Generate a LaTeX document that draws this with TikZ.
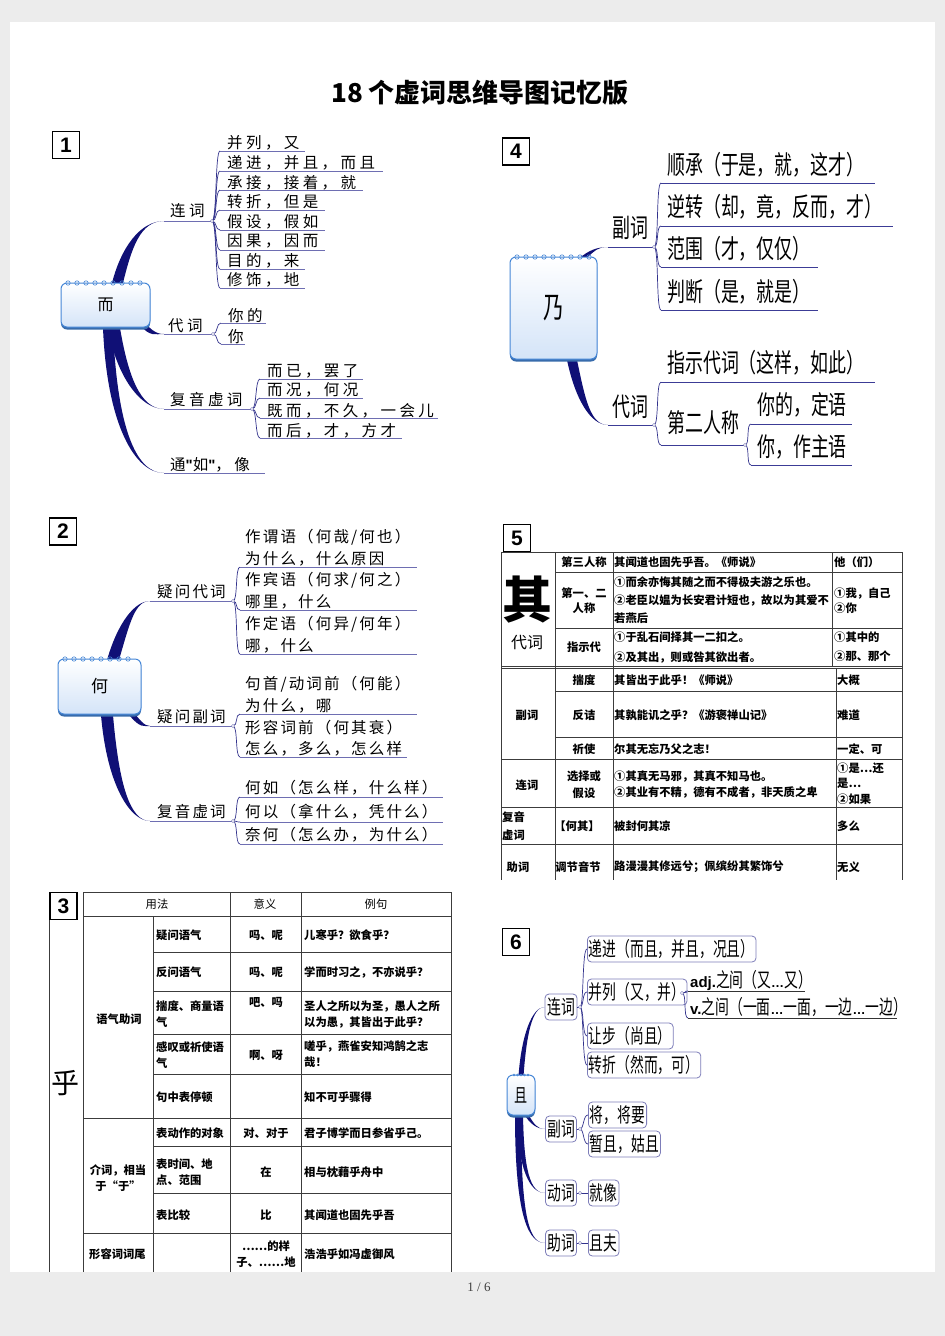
\documentclass[tikz,border=0pt]{standalone}
\usepackage{fontspec}
\setmainfont{Noto Sans CJK SC}
\newfontfamily\cjk{Noto Sans CJK SC}
\newfontfamily\cjkspA[LetterSpace=22]{Noto Sans CJK SC}
\newfontfamily\cjkspB[LetterSpace=14]{Noto Sans CJK SC}
\newfontfamily\cjknar[FakeStretch=0.69]{Noto Sans CJK SC}
\newfontfamily\latb{Liberation Sans}
\newfontfamily\latserif{Liberation Serif}
\usetikzlibrary{calc}
\definecolor{navy}{RGB}{16,16,118}
\definecolor{conn}{RGB}{50,50,140}
\definecolor{ulc}{RGB}{110,110,178}
\definecolor{ulb}{RGB}{60,60,150}
\definecolor{padblue}{RGB}{70,135,215}
\definecolor{padfill}{RGB}{212,228,248}
\definecolor{p6c}{RGB}{125,125,185}
\definecolor{pagebg}{RGB}{236,236,236}
\definecolor{tline}{RGB}{60,60,60}
% tapered branch: base, half offset, control 1, control 2, end, colour
\newcommand\thickbr[6]{%
  \fill[#6] ($(#1)-(#2)$) .. controls ($(#3)-(#2)$) and (#4) .. (#5) .. controls (#4) and ($(#3)+(#2)$) .. ($(#1)+(#2)$) -- cycle;}
% leaf: name, fork, line start x, line y, line end x, text x, text y, style, text
\newcommand\mmleaf[9]{%
  \node[#8] (#1) at (#6,#7) {#9};
  \coordinate (#1s) at (#3,#4);
  \coordinate (#1e) at (#5,#4);
  \draw[forkline] (#2) .. controls ($(#2)+(5,0)$) and ($(#1s)+(-5,0)$) .. (#1s);
  \draw[leafline] (#1s) -- (#1e);}
% notepad: name, x1, y1, x2, y2, ring step, ring radius, font, text
\newcommand\notepadbox[9]{%
  \fill[padblue!80!black, rounded corners=6pt] (#2,#3+4) rectangle (#4,#5+2.5);
  \node[padbox, minimum width={#4-#2}, minimum height={#5-#3}, font=#8] (#1) at ({(#2+#4)/2},{(#3+#5)/2}) {#9};
  \pgfmathsetmacro\rngA{#2+7}\pgfmathsetmacro\rngB{#2+7+#6}\pgfmathsetmacro\rngZ{#4-6}
  \foreach \rx in {\rngA,\rngB,...,\rngZ}{\draw[ring] (\rx,#3) circle[radius=#7pt];}}
\begin{document}
\begin{tikzpicture}[x=1pt,y=-1pt,
  numbox/.style={draw=black, line width=1.6pt, minimum width=27pt, minimum height=27pt, inner sep=0pt, fill=white, font=\latb\bfseries\fontsize{21}{21}\selectfont},
  padbox/.style={draw=padblue, line width=1pt, rounded corners=6pt, top color=white, bottom color=padfill, inner sep=0pt},
  ring/.style={draw=padblue, line width=0.6pt},
  forkc/.style={circle, draw=conn!70, fill=white, line width=0.4pt, inner sep=0pt, minimum size=3.2pt},
  forkline/.style={draw=conn, line width=0.7pt},
  leafline/.style={draw=ulc, line width=0.8pt},
  p1/.style={font=\cjkspA\fontsize{15.5}{17}\selectfont, inner sep=0pt, anchor=west},
  p2/.style={font=\cjkspB\fontsize{15.5}{21.5}\selectfont, inner sep=0pt, anchor=west, align=left},
  p4/.style={font=\cjknar\fontsize{26}{28}\selectfont, inner sep=0pt, anchor=west},
  p6box/.style={draw=p6c, line width=0.8pt, rounded corners=4pt, fill=white, font=\cjknar\fontsize{20}{22}\selectfont, inner xsep=1.5pt, inner ysep=2pt, minimum height=26pt},
  p6t/.style={font=\cjknar\fontsize{20}{22}\selectfont, inner sep=0pt, anchor=west},
  tl/.style={draw=tline, line width=0.9pt},
  tb/.style={font=\cjk\bfseries\fontsize{11.3}{16}\selectfont, inner sep=0pt, align=left, anchor=west},
  tc/.style={tb, anchor=center, align=center},
  th/.style={font=\cjk\fontsize{11.3}{16}\selectfont, inner sep=0pt, anchor=center}]
\useasboundingbox (0,0) rectangle (945,1336);
\fill[pagebg] (0,0) rectangle (945,1336);
\fill[white] (10,22) rectangle (935,1272);
\node[font=\cjk\bfseries\fontsize{26}{26}\selectfont] (title) at (480,93) {18 个虚词思维导图记忆版};
\node[font=\latserif\fontsize{13}{13}\selectfont, text=black!75] (pg) at (479,1287) {1 / 6};

%%%%%%%%%%%%%%%% Panel 1 : 而
\node[numbox] (n1) at (66,145) {1};
\coordinate (b1a) at (117,285);
\coordinate (b1b) at (140,321);
\coordinate (b1c) at (114,328);
\coordinate (b1d) at (108,328);
\coordinate (e1) at (164,221);
\coordinate (e2) at (164,334);
\coordinate (e3) at (164,409);
\coordinate (e4) at (164,473);
\thickbr{b1a}{5.5,0}{126,248}{140,221}{e1}{navy}
\thickbr{b1b}{0,4}{150,333}{155,334}{e2}{navy}
\thickbr{b1c}{6,0}{122,375}{140,409}{e3}{navy}
\thickbr{b1d}{5,0}{112,425}{135,473}{e4}{navy}
\notepadbox{er}{61}{283}{150}{327}{9}{2.2}{\cjk\fontsize{16}{16}\selectfont}{而}
\node[p1] (lc1) at (170,211) {连词};
\coordinate (f1) at (212,221);
\draw[leafline] (e1) -- (f1);
\mmleaf{a1}{f1}{220}{151}{305}{227}{143}{p1}{并列，又}
\mmleaf{a2}{f1}{220}{171}{383}{227}{163}{p1}{递进，并且，而且}
\mmleaf{a3}{f1}{220}{190}{363}{227}{183}{p1}{承接，接着，就}
\mmleaf{a4}{f1}{220}{210}{325}{227}{202}{p1}{转折，但是}
\mmleaf{a5}{f1}{220}{230}{325}{227}{222}{p1}{假设，假如}
\mmleaf{a6}{f1}{220}{250}{325}{227}{241}{p1}{因果，因而}
\mmleaf{a7}{f1}{220}{269}{305}{227}{261}{p1}{目的，来}
\mmleaf{a8}{f1}{220}{288}{305}{227}{280}{p1}{修饰，地}
\node[forkc] at (f1) {};
\node[p1] (lc2) at (168,326) {代词};
\coordinate (f2) at (213,334);
\draw[leafline] (e2) -- (f2);
\mmleaf{b1}{f2}{221}{323}{266}{228}{316}{p1}{你的}
\mmleaf{b2}{f2}{221}{344}{245}{228}{337}{p1}{你}
\node[forkc] at (f2) {};
\node[p1] (lc3) at (170,400) {复音虚词};
\coordinate (f3) at (252,409);
\draw[leafline] (e3) -- (f3);
\mmleaf{c1}{f3}{260}{379}{363}{267}{371}{p1}{而已，罢了}
\mmleaf{c2}{f3}{260}{398}{363}{267}{390}{p1}{而况，何况}
\mmleaf{c3}{f3}{260}{418}{438}{267}{411}{p1}{既而，不久，一会儿}
\mmleaf{c4}{f3}{260}{438}{402}{267}{431}{p1}{而后，才，方才}
\node[forkc] at (f3) {};
\node[p1] (lc4) at (170,465) {通{\latb\bfseries\fontsize{15}{15}\selectfont"}如{\latb\bfseries\fontsize{15}{15}\selectfont"}，像};
\coordinate (ee4) at (265,473);
\draw[leafline] (e4) -- (ee4);

%%%%%%%%%%%%%%%% Panel 2 : 何
\node[numbox] (n2) at (63,531.5) {2};
\coordinate (b2a) at (113,660);
\coordinate (b2b) at (130,712);
\coordinate (b2c) at (107,715);
\coordinate (k1) at (150,601);
\coordinate (k2) at (150,726);
\coordinate (k3) at (150,821);
\thickbr{b2a}{6,0}{124,622}{135,601}{k1}{navy}
\thickbr{b2b}{0,4}{140,724}{144,726}{k2}{navy}
\thickbr{b2c}{6,0}{113,785}{130,821}{k3}{navy}
\notepadbox{he}{58}{659}{141}{714}{9}{2.2}{\cjk\fontsize{17}{17}\selectfont}{何}
\node[p2] (ld1) at (157,592) {疑问代词};
\coordinate (g1) at (233,601);
\draw[leafline] (k1) -- (g1);
\mmleaf{d1}{g1}{240}{567}{417}{245}{547.5}{p2}{作谓语（何哉/何也）\\为什么，什么原因}
\mmleaf{d2}{g1}{240}{610}{417}{245}{590.5}{p2}{作宾语（何求/何之）\\哪里，什么}
\mmleaf{d3}{g1}{240}{654}{417}{245}{634.5}{p2}{作定语（何异/何年）\\哪，什么}
\node[forkc] at (g1) {};
\node[p2] (ld2) at (157,717) {疑问副词};
\coordinate (g2) at (233,726);
\draw[leafline] (k2) -- (g2);
\mmleaf{d4}{g2}{240}{714}{417}{245}{694.5}{p2}{句首/动词前（何能）\\为什么，哪}
\mmleaf{d5}{g2}{240}{757}{407}{245}{738}{p2}{形容词前（何其衰）\\怎么，多么，怎么样}
\node[forkc] at (g2) {};
\node[p2] (ld3) at (157,812) {复音虚词};
\coordinate (g3) at (233,821);
\draw[leafline] (k3) -- (g3);
\mmleaf{d6}{g3}{240}{797}{443}{245}{788}{p2}{何如（怎么样，什么样）}
\mmleaf{d7}{g3}{240}{822}{443}{245}{812}{p2}{何以（拿什么，凭什么）}
\mmleaf{d8}{g3}{240}{844}{443}{245}{835}{p2}{奈何（怎么办，为什么）}
\node[forkc] at (g3) {};

%%%%%%%%%%%%%%%% Panel 4 : 乃
\begin{scope}[leafline/.style={draw=ulb, line width=0.9pt}]
\node[numbox] (n4) at (516,151.5) {4};
\coordinate (b4a) at (582,259);
\coordinate (b4b) at (572,360);
\coordinate (m1) at (608,247);
\coordinate (m2) at (608,425);
\thickbr{b4a}{3.5,0}{592,250}{598,247}{m1}{navy}
\thickbr{b4b}{5,0}{580,398}{590,425}{m2}{navy}
\notepadbox{nai}{510}{257}{597}{359}{9}{2.2}{\cjknar\fontsize{30}{30}\selectfont}{乃}
\node[p4] (lf1) at (612,228) {副词};
\coordinate (h1) at (654,247);
\draw[leafline] (m1) -- (h1);
\mmleaf{e1}{h1}{661}{183}{875}{667}{165}{p4}{顺承（于是，就，这才）}
\mmleaf{e2}{h1}{661}{226}{893}{667}{207}{p4}{逆转（却，竟，反而，才）}
\mmleaf{e3}{h1}{661}{267}{818}{667}{249}{p4}{范围（才，仅仅）}
\mmleaf{e4}{h1}{661}{310}{818}{667}{292}{p4}{判断（是，就是）}
\node[forkc] at (h1) {};
\node[p4] (lf2) at (612,407) {代词};
\coordinate (h2) at (654,425);
\draw[leafline] (m2) -- (h2);
\mmleaf{e5}{h2}{661}{382}{875}{667}{363}{p4}{指示代词（这样，如此）}
\mmleaf{e6}{h2}{661}{445}{744}{667}{423}{p4}{第二人称}
\node[forkc] at (h2) {};
\coordinate (h3) at (745,445);
\mmleaf{e7}{h3}{751}{424}{852}{757}{405}{p4}{你的，定语}
\mmleaf{e8}{h3}{751}{465}{852}{757}{447}{p4}{你，作主语}
\node[forkc] at (h3) {};
\end{scope}

%%%%%%%%%%%%%%%% Panel 5 : 其 table
\node[numbox] (n5) at (517,538) {5};
\draw[tl] (501,552) -- (902,552);
\draw[tl] (555,572) -- (902,572);
\draw[tl] (555,628) -- (902,628);
\draw[tl] (501,666) -- (902,666);
\draw[tl] (501,668.5) -- (902,668.5);
\draw[tl] (555,691) -- (902,691);
\draw[tl] (555,737) -- (902,737);
\draw[tl] (501,759) -- (902,759);
\draw[tl] (501,807) -- (902,807);
\draw[tl] (501,844) -- (902,844);
\draw[tl] (501,552) -- (501,880);
\draw[tl] (555,552) -- (555,880);
\draw[tl] (613,552) -- (613,880);
\draw[tl] (832,552) -- (832,666);
\draw[tl] (836,668.5) -- (836,880);
\draw[tl] (902,552) -- (902,880);
\node[font=\cjk\bfseries\fontsize{50}{50}\selectfont, inner sep=0pt] (qi) at (527,600) {其};
\node[font=\cjk\fontsize{16}{16}\selectfont, inner sep=0pt] (qdc) at (527,643) {代词};
\node[tc] (q1) at (584,562) {第三人称};
\node[tb] (q2) at (614,562) {其闻道也固先乎吾。《师说》};
\node[tb] (q3) at (834,562) {他（们）};
\node[tc, font=\cjk\bfseries\fontsize{11.3}{15}\selectfont] (q4) at (584,601) {第一、二\\人称};
\node[tb, font=\cjk\bfseries\fontsize{11.3}{18}\selectfont] (q5) at (614,600) {①而余亦悔其随之而不得极夫游之乐也。\\②老臣以媪为长安君计短也，故以为其爱不\\若燕后};
\node[tb, font=\cjk\bfseries\fontsize{11.3}{15}\selectfont] (q6) at (834,600.5) {①我，自己\\②你};
\node[tc] (q7) at (584,647) {指示代};
\node[tb, font=\cjk\bfseries\fontsize{11.3}{20}\selectfont] (q8) at (614,647) {①于乱石间择其一二扣之。\\②及其出，则或咎其欲出者。};
\node[tb, font=\cjk\bfseries\fontsize{11.3}{19}\selectfont] (q9) at (834,646.5) {①其中的\\②那、那个};
\node[tc] (q10) at (527,715) {副词};
\node[tc] (q11) at (584,680) {揣度};
\node[tb] (q12) at (614,680) {其皆出于此乎！《师说》};
\node[tb] (q13) at (837,680) {大概};
\node[tc] (q14) at (584,715) {反诘};
\node[tb] (q15) at (614,715) {其孰能讥之乎？《游褒禅山记》};
\node[tb] (q16) at (837,715) {难道};
\node[tc] (q17) at (584,749) {祈使};
\node[tb] (q18) at (614,749) {尔其无忘乃父之志！};
\node[tb] (q19) at (837,749) {一定、可};
\node[tc] (q20) at (527,785) {连词};
\node[tc, font=\cjk\bfseries\fontsize{11.3}{17}\selectfont] (q21) at (584,784.5) {选择或\\假设};
\node[tb, font=\cjk\bfseries\fontsize{11.3}{15.5}\selectfont] (q22) at (614,784.5) {①其真无马邪，其真不知马也。\\②其业有不精，德有不成者，非天质之卑};
\node[tb, font=\cjk\bfseries\fontsize{11.3}{15.5}\selectfont] (q23) at (837,783.5) {①是…还\\是…\\②如果};
\node[tb, font=\cjk\bfseries\fontsize{11.3}{18}\selectfont] (q24) at (502,826) {复音\\虚词};
\node[tc] (q25) at (577,826) {【何其】};
\node[tb] (q26) at (614,826) {被封何其凉};
\node[tb] (q27) at (837,826) {多么};
\node[tc] (q28) at (518,867) {助词};
\node[tc] (q29) at (578,867) {调节音节};
\node[tb] (q30) at (614,867) {路漫漫其修远兮；佩缤纷其繁饰兮};
\node[tb] (q31) at (837,867) {无义};

%%%%%%%%%%%%%%%% Panel 3 : 乎 table
\node[numbox] (n3) at (63.5,906) {3};
\draw[tl] (83,892) -- (451,892);
\draw[tl] (83,916) -- (451,916);
\draw[tl] (153,952) -- (451,952);
\draw[tl] (153,991) -- (451,991);
\draw[tl] (153,1034) -- (451,1034);
\draw[tl] (153,1074) -- (451,1074);
\draw[tl] (83,1118) -- (451,1118);
\draw[tl] (153,1146) -- (451,1146);
\draw[tl] (153,1193) -- (451,1193);
\draw[tl] (83,1233) -- (451,1233);
\draw[tl] (49,920) -- (49,1272);
\draw[tl] (83,892) -- (83,1272);
\draw[tl] (153,916) -- (153,1272);
\draw[tl] (230,892) -- (230,1272);
\draw[tl] (301,892) -- (301,1272);
\draw[tl] (451,892) -- (451,1272);
\node[th] (h31) at (157,904) {用法};
\node[th] (h32) at (265,904) {意义};
\node[th] (h33) at (376,904) {例句};
\node[font=\cjk\fontsize{28}{28}\selectfont, inner sep=0pt] (hu) at (65,1083) {乎};
\node[tc] (s1) at (119,1019) {语气助词};
\node[tb] (r1a) at (156,935) {疑问语气};
\node[tc] (r1b) at (266,935) {吗、呢};
\node[tb] (r1c) at (304,935) {儿寒乎？欲食乎？};
\node[tb] (r2a) at (156,972) {反问语气};
\node[tc] (r2b) at (266,972) {吗、呢};
\node[tb] (r2c) at (304,972) {学而时习之，不亦说乎？};
\node[tb] (r3a) at (156,1014) {揣度、商量语\\气};
\node[tc] (r3b) at (266,1002) {吧、吗};
\node[tb] (r3c) at (304,1014) {圣人之所以为圣，愚人之所\\以为愚，其皆出于此乎？};
\node[tb] (r4a) at (156,1055) {感叹或祈使语\\气};
\node[tc] (r4b) at (266,1055) {啊、呀};
\node[tb] (r4c) at (304,1054.5) {嗟乎，燕雀安知鸿鹄之志\\哉！};
\node[tb] (r5a) at (156,1097) {句中表停顿};
\node[tb] (r5c) at (304,1097) {知不可乎骤得};
\node[tc] (s2) at (118,1178) {介词，相当\\于“于”};
\node[tb] (r6a) at (156,1133) {表动作的对象};
\node[tc] (r6b) at (266,1133) {对、对于};
\node[tb] (r6c) at (304,1133) {君子博学而日参省乎己。};
\node[tb] (r7a) at (156,1172) {表时间、地\\点、范围};
\node[tc] (r7b) at (266,1172) {在};
\node[tb] (r7c) at (304,1172) {相与枕藉乎舟中};
\node[tb] (r8a) at (156,1215) {表比较};
\node[tc] (r8b) at (266,1215) {比};
\node[tb] (r8c) at (304,1215) {其闻道也固先乎吾};
\node[tb] (s3) at (89,1254) {形容词词尾};
\node[tc] (r9b) at (266,1254.5) {……的样\\子、……地};
\node[tb] (r9c) at (304,1254) {浩浩乎如冯虚御风};

%%%%%%%%%%%%%%%% Panel 6 : 且
\node[numbox] (n6) at (516,942) {6};
\node[p6box, minimum width=32pt] (x1) at (561,1007) {连词};
\node[p6box, minimum width=31pt] (x2) at (561,1129) {副词};
\node[p6box, minimum width=31pt] (x3) at (561,1193) {动词};
\node[p6box, minimum width=31pt] (x4) at (561,1243) {助词};
\coordinate (q6a) at (521,1076);
\coordinate (q6b) at (526,1114);
\coordinate (q6c) at (520,1115);
\coordinate (q6d) at (518,1115);
\thickbr{q6a}{2.5,0}{524,1035}{532,1007}{x1.west}{navy}
\thickbr{q6b}{2,0}{532,1124}{537,1129}{x2.west}{navy}
\thickbr{q6c}{3,0}{521,1170}{530,1193}{x3.west}{navy}
\thickbr{q6d}{3,0}{518,1222}{530,1243}{x4.west}{navy}
\notepadbox{qie}{507}{1075}{535}{1115}{3.5}{1}{\cjknar\fontsize{19}{19}\selectfont}{且}
\node[p6box, anchor=west] (y1) at (587,949) {递进（而且，并且，况且）};
\node[p6box, anchor=west] (y2) at (587,992) {并列（又，并）};
\node[p6box, anchor=west] (y3) at (587,1036) {让步（尚且）};
\node[p6box, anchor=west] (y4) at (587,1065) {转折（然而，可）};
\node[p6box, anchor=west] (y5) at (588,1115) {将，将要};
\node[p6box, anchor=west] (y6) at (588,1144) {暂且，姑且};
\node[p6box, anchor=west] (y7) at (588,1193) {就像};
\node[p6box, anchor=west] (y8) at (588,1243) {且夫};
\coordinate (j1) at (580,1007);
\coordinate (j2) at (580,1129);
\coordinate (j3) at (580,1193);
\coordinate (j4) at (580,1243);
\draw[forkline] (x1.east) -- (j1);
\draw[forkline] (x2.east) -- (j2);
\draw[forkline] (x3.east) -- (j3) -- (y7.west);
\draw[forkline] (x4.east) -- (j4) -- (y8.west);
\foreach \t in {y1,y2,y3,y4}{\draw[forkline] (j1) .. controls ($(j1)+(4,0)$) and ($(\t.west)+(-5,0)$) .. (\t.west);}
\foreach \t in {y5,y6}{\draw[forkline] (j2) .. controls ($(j2)+(4,0)$) and ($(\t.west)+(-5,0)$) .. (\t.west);}
\node[forkc] at (j1) {};
\node[forkc] at (j2) {};
\node[forkc] at (j3) {};
\node[forkc] at (j4) {};
\coordinate (j5) at (682,993);
\draw[forkline] (y2.east) -- (j5);
\begin{scope}[leafline/.style={draw=black!80, line width=0.9pt}]
\mmleaf{z1}{j5}{688}{991}{805}{690}{980}{p6t}{{\latb\bfseries\fontsize{15}{15}\selectfont adj.}之间（又{\latb\bfseries\fontsize{13}{13}\selectfont …}又）}
\mmleaf{z2}{j5}{688}{1018}{897}{690}{1007}{p6t}{{\latb\bfseries\fontsize{15}{15}\selectfont v.}之间（一面{\latb\bfseries\fontsize{13}{13}\selectfont …}一面，一边{\latb\bfseries\fontsize{13}{13}\selectfont …}一边）}
\end{scope}
\node[forkc] at (j5) {};
\end{tikzpicture}
\end{document}
